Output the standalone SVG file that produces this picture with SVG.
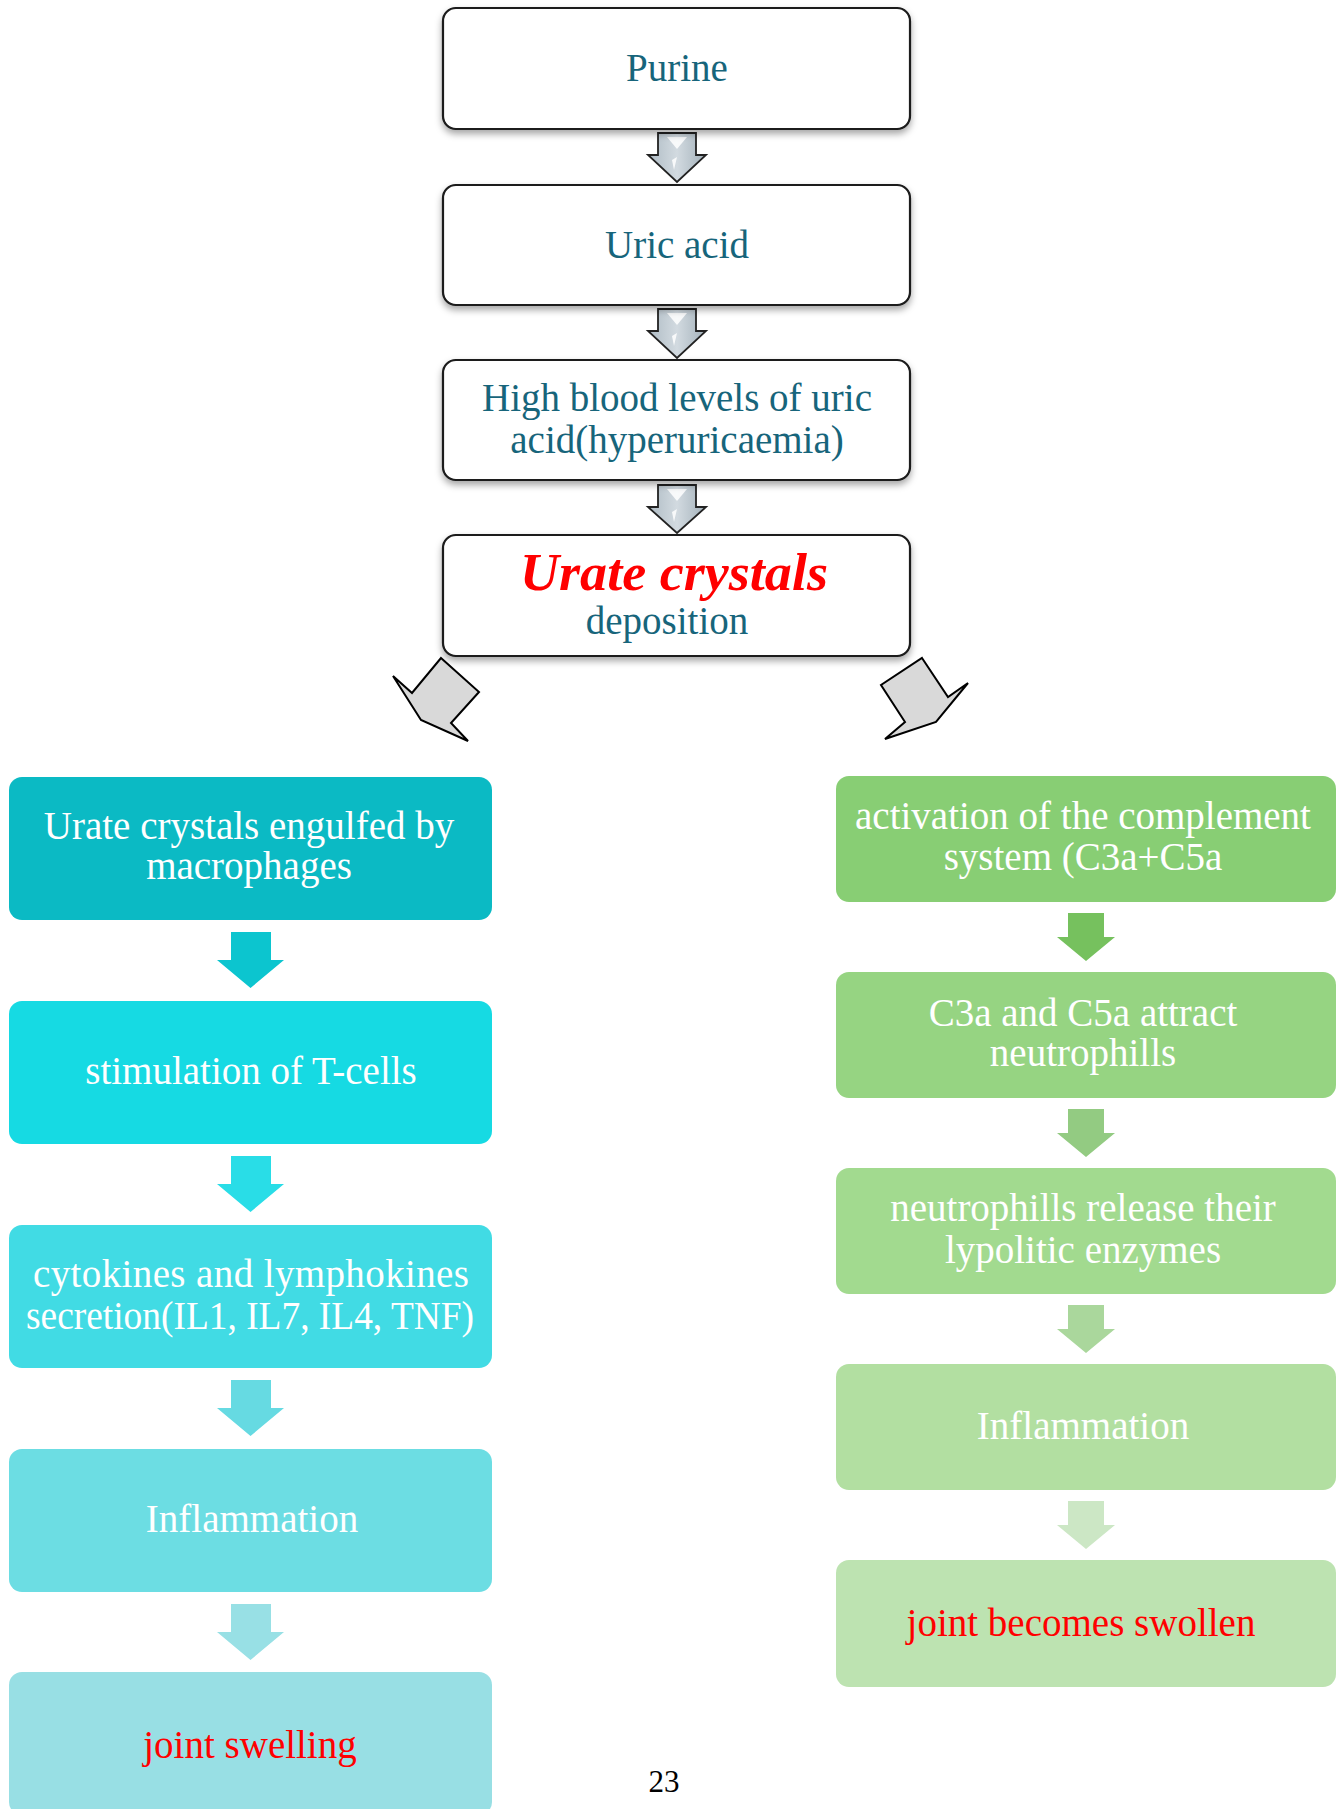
<svg xmlns="http://www.w3.org/2000/svg" width="1340" height="1809" viewBox="0 0 1340 1809">
<defs>
<filter id="sh" x="-10%" y="-10%" width="120%" height="140%">
<feDropShadow dx="0" dy="4" stdDeviation="3.5" flood-color="#000" flood-opacity="0.35"/>
</filter>
<linearGradient id="ag" x1="0" y1="0" x2="1" y2="0">
<stop offset="0" stop-color="#AEBBC4"/>
<stop offset="0.5" stop-color="#D2DAE0"/>
<stop offset="1" stop-color="#A3B1BA"/>
</linearGradient>
<style>
.tb{fill:#fff;stroke:#1a1a1a;stroke-width:2.2}
.tt{font-family:"Liberation Serif",serif;font-size:39px;fill:#17657B;text-anchor:middle}
.wt{font-family:"Liberation Serif",serif;font-size:39px;fill:#fff;text-anchor:middle}
.rt{font-family:"Liberation Serif",serif;font-size:39px;fill:#FF0000;text-anchor:middle}
.ta{fill:url(#ag);stroke:#222;stroke-width:1.8;stroke-linejoin:miter}
.hl{fill:#fff;opacity:0.85}
.da{fill:#D9D9D9;stroke:#000;stroke-width:2;stroke-linejoin:miter}
</style>
</defs>
<rect width="1340" height="1809" fill="#fff"/>

<g id="connectors">
<g id="top-arrows">
<polygon class="ta" points="658,133 696,133 696,155 706,155 677,182 648,155 658,155"/>
<polygon class="hl" points="667,137 687,137 677,149"/>
<polygon class="hl" points="672,160 677,157 674,170"/>
<polygon class="ta" points="658,309 696,309 696,331 706,331 677,358 648,331 658,331"/>
<polygon class="hl" points="667,313 687,313 677,325"/>
<polygon class="hl" points="672,336 677,333 674,346"/>
<polygon class="ta" points="658,485 696,485 696,507 706,507 677,533 648,507 658,507"/>
<polygon class="hl" points="667,489 687,489 677,501"/>
<polygon class="hl" points="672,512 677,509 674,522"/>
</g>
<polygon id="diag-left" class="da" points="441,658 479,692 451,723 468,741 421,720 393,676 412,693"/>
<polygon id="diag-right" class="da" points="922,658 948,697 968,683 936,722 885,739 905,722 881,685"/>
<g id="left-arrows">
<polygon fill="#0CC5CF" points="231,932 271,932 271,960 284,960 250.5,988 217,960 231,960"/>
<polygon fill="#29DDE7" points="231,1156 271,1156 271,1184 284,1184 250.5,1212 217,1184 231,1184"/>
<polygon fill="#66DAE2" points="231,1380 271,1380 271,1408 284,1408 250.5,1436 217,1408 231,1408"/>
<polygon fill="#98E0E5" points="231,1604 271,1604 271,1632 284,1632 250.5,1660 217,1632 231,1632"/>
</g>
<g id="right-arrows">
<polygon fill="#76C15E" points="1068,913 1104,913 1104,937 1115,937 1086,961 1057,937 1068,937"/>
<polygon fill="#93CB82" points="1068,1109 1104,1109 1104,1133 1115,1133 1086,1157 1057,1133 1068,1133"/>
<polygon fill="#AAD79C" points="1068,1305 1104,1305 1104,1329 1115,1329 1086,1353 1057,1329 1068,1329"/>
<polygon fill="#CCE7C5" points="1068,1501 1104,1501 1104,1525 1115,1525 1086,1549 1057,1525 1068,1525"/>
</g>
</g>

<g id="purine">
<rect class="tb" x="443" y="8" width="467" height="121" rx="13" filter="url(#sh)"/>
<text class="tt" x="677" y="81">Purine</text>
</g>
<g id="uric-acid">
<rect class="tb" x="443" y="185" width="467" height="120" rx="13" filter="url(#sh)"/>
<text class="tt" x="677" y="258">Uric acid</text>
</g>
<g id="hyperuricaemia">
<rect class="tb" x="443" y="360" width="467" height="120" rx="13" filter="url(#sh)"/>
<text class="tt" x="677" y="411">High blood levels of uric</text>
<text class="tt" x="677" y="453">acid(hyperuricaemia)</text>
</g>
<g id="urate-deposition">
<rect class="tb" x="443" y="535" width="467" height="121" rx="13" filter="url(#sh)"/>
<text x="674" y="590" font-family="Liberation Serif, serif" font-size="52" font-weight="bold" font-style="italic" fill="#FF0000" text-anchor="middle" textLength="308" lengthAdjust="spacingAndGlyphs">Urate crystals</text>
<text class="tt" x="667" y="634" font-size="40">deposition</text>
</g>

<g id="engulfed">
<rect x="9" y="777" width="483" height="143" rx="13" fill="#0BBAC4"/>
<text class="wt" x="249" y="839">Urate crystals engulfed by</text>
<text class="wt" x="249" y="879">macrophages</text>
</g>
<g id="tcells">
<rect x="9" y="1001" width="483" height="143" rx="13" fill="#16DAE3"/>
<text class="wt" x="251" y="1084">stimulation of T-cells</text>
</g>
<g id="cytokines">
<rect x="9" y="1225" width="483" height="143" rx="13" fill="#41DBE4"/>
<text class="wt" x="251" y="1287" textLength="436" lengthAdjust="spacing">cytokines and lymphokines</text>
<text class="wt" x="250" y="1329" textLength="448" lengthAdjust="spacingAndGlyphs">secretion(IL1, IL7, IL4, TNF)</text>
</g>
<g id="inflammation-left">
<rect x="9" y="1449" width="483" height="143" rx="13" fill="#6CDDE3"/>
<text class="wt" x="252" y="1532">Inflammation</text>
</g>
<g id="joint-swelling">
<rect x="9" y="1672" width="483" height="143" rx="13" fill="#98DFE4"/>
<text class="rt" x="250" y="1758">joint swelling</text>
</g>

<g id="complement">
<rect x="836" y="776" width="500" height="126" rx="13" fill="#88CE74"/>
<text class="wt" x="1083" y="829">activation of the complement</text>
<text class="wt" x="1083" y="870">system (C3a+C5a</text>
</g>
<g id="attract">
<rect x="836" y="972" width="500" height="126" rx="13" fill="#96D482"/>
<text class="wt" x="1083" y="1026">C3a and C5a attract</text>
<text class="wt" x="1083" y="1066">neutrophills</text>
</g>
<g id="enzymes">
<rect x="836" y="1168" width="500" height="126" rx="13" fill="#A2DA8F"/>
<text class="wt" x="1083" y="1221">neutrophills release their</text>
<text class="wt" x="1083" y="1263">lypolitic enzymes</text>
</g>
<g id="inflammation-right">
<rect x="836" y="1364" width="500" height="126" rx="13" fill="#B2DFA1"/>
<text class="wt" x="1083" y="1439">Inflammation</text>
</g>
<g id="joint-swollen">
<rect x="836" y="1560" width="500" height="127" rx="13" fill="#BDE3B1"/>
<text class="rt" x="1081" y="1636">joint becomes swollen</text>
</g>

<text id="page-number" x="664" y="1792" font-family="Liberation Serif, serif" font-size="31" fill="#000" text-anchor="middle">23</text>
</svg>
